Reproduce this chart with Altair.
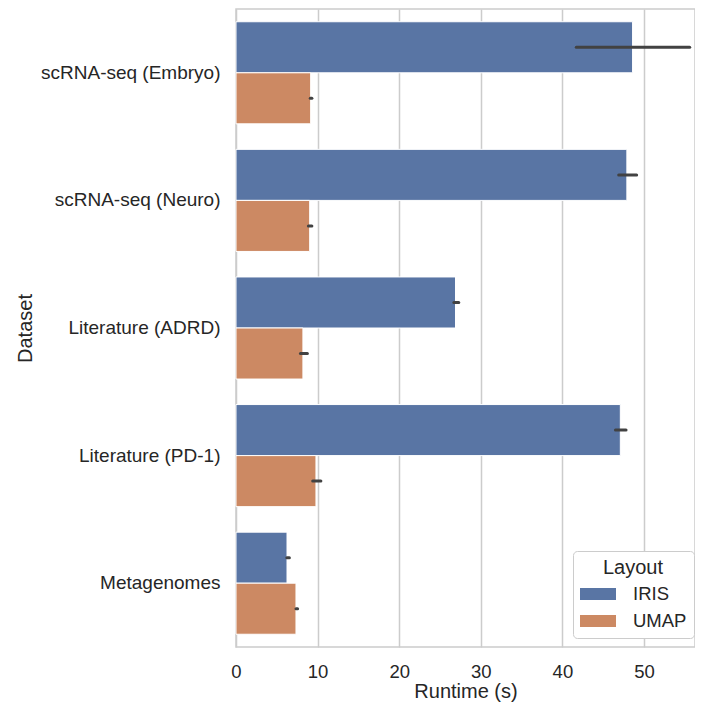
import altair as alt
import pandas as pd

datasets = ["scRNA-seq (Embryo)", "scRNA-seq (Neuro)", "Literature (ADRD)", "Literature (PD-1)", "Metagenomes"]
layouts = ["IRIS", "UMAP"]
iris_mean = [48.6, 47.9, 26.9, 47.1, 6.25]
iris_lo = [41.7, 46.9, 26.7, 46.5, 6.23]
iris_hi = [55.6, 49.1, 27.3, 47.8, 6.54]
umap_mean = [9.15, 9.03, 8.2, 9.8, 7.35]
umap_lo = [9.1, 8.87, 7.9, 9.4, 7.35]
umap_hi = [9.3, 9.3, 8.75, 10.4, 7.55]
x_ticks = [0, 10, 20, 30, 40, 50]
colors = ["#5975a4", "#cc8963"]

rows = []
for i, d in enumerate(datasets):
    rows.append({"Dataset": d, "Layout": "IRIS", "Runtime": iris_mean[i], "lo": iris_lo[i], "hi": iris_hi[i]})
    rows.append({"Dataset": d, "Layout": "UMAP", "Runtime": umap_mean[i], "lo": umap_lo[i], "hi": umap_hi[i]})
df = pd.DataFrame(rows)

FONT = "Liberation Sans, Arial, sans-serif"

y_enc = alt.Y("Dataset:N", sort=datasets, title="Dataset",
              scale=alt.Scale(paddingInner=0.2, paddingOuter=0.1),
              axis=alt.Axis(grid=False, domain=False, ticks=False, tickSize=0,
                            labelPadding=16, labelFontSize=19, titleFontSize=20,
                            titlePadding=5, titleFontWeight="normal"))
yoff = alt.YOffset("Layout:N", sort=layouts, scale=alt.Scale(paddingInner=0, paddingOuter=0))
x_scale = alt.Scale(domain=[0, 56.25], nice=False, zero=True)

bars = alt.Chart(df).mark_bar(stroke="white", strokeWidth=1, opacity=1).encode(
    y=y_enc,
    yOffset=yoff,
    x=alt.X("Runtime:Q", scale=x_scale, title="Runtime (s)",
            axis=alt.Axis(values=x_ticks, grid=True, domain=False, ticks=False, tickSize=0,
                          labelPadding=15, labelFontSize=18.5, titleFontSize=20,
                          titlePadding=1, titleFontWeight="normal", gridColor="#cccccc",
                          gridWidth=1.5, labelFlush=False)),
    color=alt.Color("Layout:N", sort=layouts,
                    scale=alt.Scale(domain=layouts, range=colors),
                    legend=alt.Legend(title="Layout", orient="none", legendX=337, legendY=542,
                                      fillColor="white", strokeColor="#cccccc", cornerRadius=4,
                                      padding=7, titleFontSize=20, titleFontWeight="normal",
                                      labelFontSize=18.5, titleAnchor="middle",
                                      symbolType="M-1,-0.6L2.6,-0.6L2.6,0.6L-1,0.6Z",
                                      symbolSize=400, symbolStrokeWidth=0, symbolOpacity=1,
                                      rowPadding=7, labelOffset=33, titlePadding=6)),
)

errs = alt.Chart(df).mark_rule(color="#424242", strokeWidth=3, strokeCap="round").encode(
    y=alt.Y("Dataset:N", sort=datasets),
    yOffset=yoff,
    x=alt.X("lo:Q", scale=x_scale),
    x2="hi:Q",
)

chart = alt.layer(bars, errs).properties(
    width=459, height=638,
    autosize=alt.AutoSizeParams(type="none"),
    padding={"left": 228, "top": 1, "right": 0, "bottom": 58},
).configure(font=FONT).configure_view(
    stroke="#cccccc", strokeWidth=1.5
).configure_axis(
    labelColor="#262626", titleColor="#262626", labelFont=FONT, titleFont=FONT
).configure_legend(
    labelColor="#262626", titleColor="#262626", labelFont=FONT, titleFont=FONT
)

chart.save("out.html", embed_options={"renderer": "svg", "actions": False})
